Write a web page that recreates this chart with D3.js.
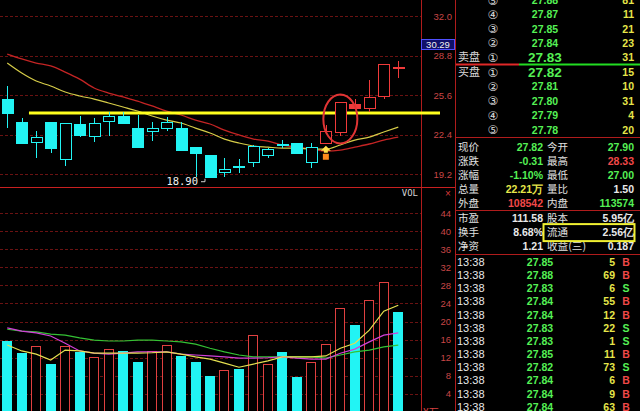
<!DOCTYPE html>
<html><head><meta charset="utf-8">
<script src="https://cdn.jsdelivr.net/npm/d3@7"></script>
<style>html,body{margin:0;padding:0;background:#000;overflow:hidden}svg{display:block}</style>
</head><body><svg id="c" width="640" height="411"></svg>
<script>
// ---------------- data ----------------
const days = ["D01","D02","D03","D04","D05","D06","D07","D08","D09","D10","D11","D12","D13","D14",
              "D15","D16","D17","D18","D19","D20","D21","D22","D23","D24","D25","D26","D27","D28"];
const open  = [25.27,23.41,21.79,23.41,20.41,23.25,22.28,23.49,23.90,22.92,22.68,22.92,22.92,21.38,
               20.74,19.36,19.84,20.17,20.74,21.63,21.71,20.17,21.71,22.60,24.87,24.54,25.52,27.90];
const high  = [26.33,23.73,22.68,23.45,23.36,23.90,23.73,24.22,24.22,23.98,23.41,23.82,23.41,21.40,
               20.76,20.49,20.41,21.55,21.30,21.95,21.75,21.71,23.17,25.05,25.27,26.81,28.15,28.33];
const low   = [22.92,21.66,20.49,20.90,19.84,22.19,21.79,22.28,23.30,21.35,21.87,22.68,21.10,18.95,
               18.90,18.92,19.28,19.76,20.49,21.30,20.85,19.68,21.65,22.28,24.50,24.22,25.27,27.00];
const close = [24.14,21.71,22.19,21.30,23.33,22.36,23.33,23.90,23.33,21.38,22.92,23.41,21.14,20.90,
               18.98,19.60,19.78,21.47,21.22,21.57,20.90,21.38,22.68,25.03,24.54,25.44,28.13,27.82];
const trend = ["down","down","down","down","down","down","down","down","down","down","down","down","down","down",
               "down","down","down","down","down","down","down","down","up","up","up","up","up","up"];
const maShort = [28.19,27.38,26.73,26.33,25.84,25.52,25.27,24.95,24.63,24.30,23.90,23.57,23.33,22.92,
                 22.52,22.03,21.71,21.47,21.38,21.30,21.30,21.22,21.22,21.55,21.95,22.19,22.60,23.00];
const maLong  = [28.92,28.52,28.19,27.95,27.46,26.89,26.17,25.76,25.44,25.11,24.71,24.30,23.98,23.57,
                 23.25,22.76,22.36,22.03,21.87,21.55,21.38,21.22,21.06,21.14,21.38,21.63,21.95,22.19];
const volume  = [15.7,13.0,14.6,10.6,14.6,13.3,12.2,13.9,13.5,11.0,13.5,14.8,12.4,11.0,
                 8.0,9.3,9.5,17.0,10.6,13.3,7.7,11.0,15.0,23.0,19.2,24.8,28.7,22.21];
const volMA5  = [14.8,13.5,12.8,11.5,13.7,13.5,13.0,13.0,13.0,13.0,13.1,13.3,12.8,12.2,
                 11.7,10.8,9.9,10.6,11.3,12.2,12.2,12.2,12.4,14.1,15.2,18.1,22.3,23.6];
const volMA10 = [18.6,17.9,17.5,16.8,15.2,13.5,13.0,12.8,13.0,13.3,13.3,13.3,12.8,12.6,
                 12.4,12.2,11.9,11.9,12.0,12.2,11.9,11.7,11.7,13.0,13.9,15.5,17.0,17.5];
const volMA20 = [18.3,17.9,17.7,17.2,17.0,16.4,15.9,15.7,15.7,15.9,15.9,15.7,15.5,15.0,
                 14.1,13.3,12.6,12.2,12.2,12.2,12.2,12.2,11.9,12.6,13.3,13.7,14.4,14.8];
const priceTicks = [19.2,22.4,25.6,28.8,32.0];
const volTicks = [4,8,12,16,20,24,28,32,36,40,44];
const resistance = 24.14;
const lowMark = 18.90;
const cursorLabel = "30.29";

const sellNo = ["⑤","④","③","②","①"];
const sellPrice = ["27.88","27.87","27.85","27.84","27.83"];
const sellVol = ["81","11","21","23","31"];
const buyNo = ["①","②","③","④","⑤"];
const buyPrice = ["27.82","27.81","27.80","27.79","27.78"];
const buyVol = ["15","10","31","4","20"];

const qLabel1 = ["现价","涨跌","涨幅","总量","外盘","市盈","换手","净资"];
const qValue1 = ["27.82","-0.31","-1.10%","22.21万","108542","111.58","8.68%","1.21"];
const qLabel2 = ["今开","最高","最低","量比","内盘","股本","流通","收益(三)"];
const qValue2 = ["27.90","28.33","27.00","1.50","113574","5.95亿","2.56亿","0.187"];
const qTone1 = ["dn","dn","dn","vol","up","flat","flat","flat"];
const qTone2 = ["dn","up","dn","flat","dn","flat","flat","flat"];

const tickTime = ["13:38","13:38","13:38","13:38","13:38","13:38","13:38","13:38","13:38","13:38","13:38","13:38"];
const tickPrice = ["27.85","27.88","27.83","27.84","27.84","27.83","27.83","27.85","27.82","27.84","27.84","27.84"];
const tickVol = ["5","69","6","55","12","22","1","11","73","6","9","63"];
const tickSide = ["B","B","S","B","B","S","S","B","S","B","B","B"];

// ---------------- styles ----------------
const RED = "#f03a3a", CYAN = "#22f4f4", GRID = "#6a1212", FRAME = "#b01c1c";
const GREEN_T = "#55f055", YEL_T = "#e6e64a", WHITE_T = "#e8e8e8", RED_T = "#f04848";
const toneColor = {dn: GREEN_T, up: RED_T, vol: YEL_T, flat: WHITE_T};
const NUM = "'Liberation Sans', Arial, sans-serif";
const CJK = "'Noto Sans CJK SC', sans-serif";

const svg = d3.select("#c");
svg.append("rect").attr("width", 640).attr("height", 411).attr("fill", "#000");

const x = d3.scaleBand().domain(days.concat(["NEXT"])).range([0, 420]).paddingInner(0.2).paddingOuter(0.1);
const cx = d => x(d) + x.bandwidth() / 2;
const y = d3.scaleLinear().domain([19.2, 32.0]).range([174, 16]);
const yv = d3.scaleLinear().domain([0, 44]).range([412, 213]);

// ---------------- grids ----------------
const gGrid = svg.append("g").attr("shape-rendering", "crispEdges");
gGrid.append("g").call(d3.axisRight(y).tickValues(priceTicks).tickSize(421).tickFormat(""))
  .call(g => g.select(".domain").remove())
  .call(g => g.selectAll("line").attr("stroke", GRID).attr("stroke-dasharray", "3,2"));
gGrid.append("g").call(d3.axisRight(yv).tickValues(volTicks).tickSize(421).tickFormat(""))
  .call(g => g.select(".domain").remove())
  .call(g => g.selectAll("line").attr("stroke", GRID).attr("stroke-dasharray", "3,2"));

// frame lines
const gFrame = svg.append("g").attr("shape-rendering", "crispEdges");
gFrame.append("line").attr("x1", 421.5).attr("x2", 421.5).attr("y1", 0).attr("y2", 411).attr("stroke", FRAME);
gFrame.append("line").attr("x1", 455.5).attr("x2", 455.5).attr("y1", 0).attr("y2", 411).attr("stroke", FRAME);
gFrame.append("line").attr("x1", 0).attr("x2", 455).attr("y1", 187.5).attr("y2", 187.5).attr("stroke", "#c82020").attr("stroke-width", 1.5);
[137.5, 210.5, 254.5].forEach(v =>
  gFrame.append("line").attr("x1", 455).attr("x2", 640).attr("y1", v).attr("y2", v).attr("stroke", FRAME));

// ---------------- axes labels ----------------
svg.append("g").attr("transform", "translate(452,0)")
  .call(d3.axisLeft(y).tickValues(priceTicks).tickSize(0).tickPadding(0).tickFormat(d3.format(".1f")))
  .call(g => g.select(".domain").remove())
  .call(g => g.selectAll("text").attr("fill", "#c84646").attr("font-family", NUM).attr("font-size", 9.5));
svg.append("g").attr("transform", "translate(451,0)")
  .call(d3.axisLeft(yv).tickValues(volTicks).tickSize(0).tickPadding(0).tickFormat(d3.format("d")))
  .call(g => g.select(".domain").remove())
  .call(g => g.selectAll("text").attr("fill", "#c84646").attr("font-family", NUM).attr("font-size", 9.5));

// ---------------- moving averages (price) ----------------
const candles = days.map((d, i) => ({d, o: open[i], h: high[i], l: low[i], c: close[i], t: trend[i], v: volume[i]}));
const lineP = arr => d3.line().x((v, i) => cx(days[i])).y(v => y(v)).curve(d3.curveMonotoneX)(arr);
svg.append("path").attr("d", lineP(maLong)).attr("fill", "none").attr("stroke", "#c42424").attr("stroke-width", 1.3);
svg.append("path").attr("d", lineP(maShort)).attr("fill", "none").attr("stroke", "#d6cc48").attr("stroke-width", 1.2);

// resistance line
const resStart = (cx(days[1]) + cx(days[2])) / 2;
svg.append("line").attr("x1", resStart).attr("x2", 440).attr("y1", y(resistance)).attr("y2", y(resistance))
  .attr("stroke", "#ffff1e").attr("stroke-width", 3);

// ---------------- candles ----------------
const gC = svg.append("g").attr("shape-rendering", "crispEdges");
const col = d => d.t === "up" ? RED : CYAN;
gC.selectAll("line").data(candles).join("line")
  .attr("x1", d => Math.round(cx(d.d)) + 0.5).attr("x2", d => Math.round(cx(d.d)) + 0.5)
  .attr("y1", d => y(d.h)).attr("y2", d => y(d.l)).attr("stroke", col);
gC.selectAll("rect").data(candles).join("rect")
  .attr("x", d => Math.round(cx(d.d) - 5.5) + 0.5)
  .attr("width", 11)
  .attr("y", d => Math.round(y(Math.max(d.o, d.c))) + 0.5)
  .attr("height", d => Math.max(1, Math.round(y(Math.min(d.o, d.c)) - y(Math.max(d.o, d.c)))))
  .attr("fill", d => d.c > d.o ? "#000" : col(d))
  .attr("stroke", col);

// low annotation
const lowDay = days[low.indexOf(lowMark)];
svg.append("text").attr("x", cx(lowDay) - 12).attr("y", y(lowMark) + 7).attr("text-anchor", "end")
  .attr("fill", "#f0f0f0").attr("font-family", "'DejaVu Sans Mono', monospace").attr("font-size", 10.5).text(lowMark.toFixed(2));
svg.append("path").attr("d", `M${cx(lowDay) - 9},${y(lowMark) + 4} l4,0 m0,0 l0,-3`)
  .attr("stroke", "#d0d0d0").attr("fill", "none");

// breakout ellipse
const bk = days[23];
svg.append("ellipse").attr("cx", cx(bk)).attr("cy", (y(high[23]) + y(low[23])) / 2)
  .attr("rx", 17).attr("ry", 24.5).attr("fill", "none").attr("stroke", "#e03434").attr("stroke-width", 2);

// buy signal arrow
const sg = days[22];
const ax = cx(sg), ay = y(low[22]) + 2;
svg.append("path").attr("d", `M${ax},${ay} l-5,5 l3,0 l0,2 l4,0 l0,-2 l3,0 z`).attr("fill", "#ffe14a");
svg.append("rect").attr("x", ax - 3).attr("y", ay + 8).attr("width", 6).attr("height", 6).attr("fill", "#ff8a1c");

// ---------------- volume ----------------
const gV = svg.append("g").attr("shape-rendering", "crispEdges");
gV.selectAll("rect").data(candles).join("rect")
  .attr("x", d => Math.round(cx(d.d) - 5) + 0.5).attr("width", 9)
  .attr("y", d => Math.round(yv(d.v)) + 0.5)
  .attr("height", d => 420 - yv(d.v))
  .attr("fill", d => d.c >= d.o ? "#000" : CYAN)
  .attr("stroke", d => d.c >= d.o ? "#e04040" : CYAN);
const lineV = arr => d3.line().x((v, i) => cx(days[i])).y(v => yv(v))(arr);
svg.append("path").attr("d", lineV(volMA20)).attr("fill", "none").attr("stroke", "#34c234").attr("stroke-width", 1.2);
svg.append("path").attr("d", lineV(volMA10)).attr("fill", "none").attr("stroke", "#d040d8").attr("stroke-width", 1.2);
svg.append("path").attr("d", lineV(volMA5)).attr("fill", "none").attr("stroke", "#e4e050").attr("stroke-width", 1.2);

svg.append("text").attr("x", 418).attr("y", 196).attr("text-anchor", "end").attr("fill", "#d0d0d0")
  .attr("font-family", "'DejaVu Sans Mono', monospace").attr("font-size", 9).text("VOL");
svg.append("text").attr("x", 448).attr("y", 197).attr("text-anchor", "middle").attr("fill", "#d83a3a")
  .attr("font-family", NUM).attr("font-size", 10).text("×");
svg.append("text").attr("x", 423).attr("y", 416).attr("fill", "#d84040")
  .attr("font-family", CJK).attr("font-size", 10).text("X万");

// cursor price box
svg.append("rect").attr("x", 421.5).attr("y", 39.5).attr("width", 33).attr("height", 10)
  .attr("fill", "#10106a").attr("stroke", "#5050ff");
svg.append("text").attr("x", 438).attr("y", 48).attr("text-anchor", "middle").attr("fill", "#f0f0f0")
  .attr("font-family", NUM).attr("font-size", 9.5).text(cursorLabel);

// ---------------- right panel: order book ----------------
const rp = svg.append("g");
const bookRow = (g, yy, no, pr, vo, big) => {
  g.append("text").attr("x", 493).attr("y", yy + 4.5).attr("text-anchor", "middle").attr("fill", "#d8d8d8")
    .attr("font-family", "'DejaVu Sans', sans-serif").attr("font-size", 12).text(no);
  g.append("text").attr("x", 545).attr("y", yy + (big ? 5 : 4)).attr("text-anchor", "middle").attr("fill", GREEN_T)
    .attr("font-family", NUM).attr("font-weight", "bold").attr("font-size", big ? 13.5 : 10.5).text(pr);
  g.append("text").attr("x", 634).attr("y", yy + 4).attr("text-anchor", "end").attr("fill", YEL_T)
    .attr("font-family", NUM).attr("font-weight", "bold").attr("font-size", 10.5).text(vo);
};
sellNo.forEach((n, i) => bookRow(rp, 0 + i * 14.3, n, sellPrice[i], sellVol[i], i === 4));
buyNo.forEach((n, i) => bookRow(rp, 72 + i * 14.4, n, buyPrice[i], buyVol[i], i === 0));
rp.append("text").attr("x", 458).attr("y", 61).attr("fill", "#d8d8d8").attr("font-family", CJK).attr("font-size", 11).text("卖盘");
rp.append("text").attr("x", 458).attr("y", 76).attr("fill", "#d8d8d8").attr("font-family", CJK).attr("font-size", 11).text("买盘");
rp.append("line").attr("x1", 456).attr("x2", 519).attr("y1", 64.5).attr("y2", 64.5).attr("stroke", "#e02828").attr("stroke-width", 2);
rp.append("line").attr("x1", 519).attr("x2", 640).attr("y1", 64.5).attr("y2", 64.5).attr("stroke", "#22dd22").attr("stroke-width", 2);

// quotes
qLabel1.forEach((lab, i) => {
  const yy = 147 + i * 14.1 + (i >= 5 ? 0.5 : 0);
  rp.append("text").attr("x", 458).attr("y", yy + 4).attr("fill", "#e0e0e0").attr("font-family", CJK).attr("font-size", 10.5).text(lab);
  rp.append("text").attr("x", 543).attr("y", yy + 4).attr("text-anchor", "end").attr("fill", toneColor[qTone1[i]])
    .attr("font-family", NUM).attr("font-weight", "bold").attr("font-size", 10.5).text(qValue1[i]);
  const l2 = rp.append("text").attr("x", 547).attr("y", yy + 4).attr("fill", "#e0e0e0").attr("font-family", CJK).attr("font-size", 10.5).text(qLabel2[i]);
  if (qLabel2[i].length > 2) l2.attr("textLength", 39).attr("lengthAdjust", "spacingAndGlyphs");
  rp.append("text").attr("x", 634).attr("y", yy + 4).attr("text-anchor", "end").attr("fill", toneColor[qTone2[i]])
    .attr("font-family", NUM).attr("font-weight", "bold").attr("font-size", 10.5).text(qValue2[i]);
});
// highlight box on 流通
const hl = qLabel2.indexOf("流通");
rp.append("rect").attr("x", 543.5).attr("y", 147 + hl * 14.1 - 7.5).attr("width", 91).attr("height", 17)
  .attr("fill", "none").attr("stroke", "#f0f032").attr("stroke-width", 2);

// ticks
tickTime.forEach((t, i) => {
  const yy = 262 + i * 13.15;
  rp.append("text").attr("x", 457).attr("y", yy + 4).attr("fill", "#e8e8e8").attr("font-family", NUM).attr("font-size", 11).text(t);
  rp.append("text").attr("x", 540).attr("y", yy + 4).attr("text-anchor", "middle").attr("fill", GREEN_T)
    .attr("font-family", NUM).attr("font-weight", "bold").attr("font-size", 10.5).text(tickPrice[i]);
  rp.append("text").attr("x", 615).attr("y", yy + 4).attr("text-anchor", "end").attr("fill", YEL_T)
    .attr("font-family", NUM).attr("font-weight", "bold").attr("font-size", 10.5).text(tickVol[i]);
  rp.append("text").attr("x", 626).attr("y", yy + 4).attr("text-anchor", "middle")
    .attr("fill", tickSide[i] === "B" ? RED_T : GREEN_T)
    .attr("font-family", NUM).attr("font-weight", "bold").attr("font-size", 10.5).text(tickSide[i]);
});
</script></body></html>
